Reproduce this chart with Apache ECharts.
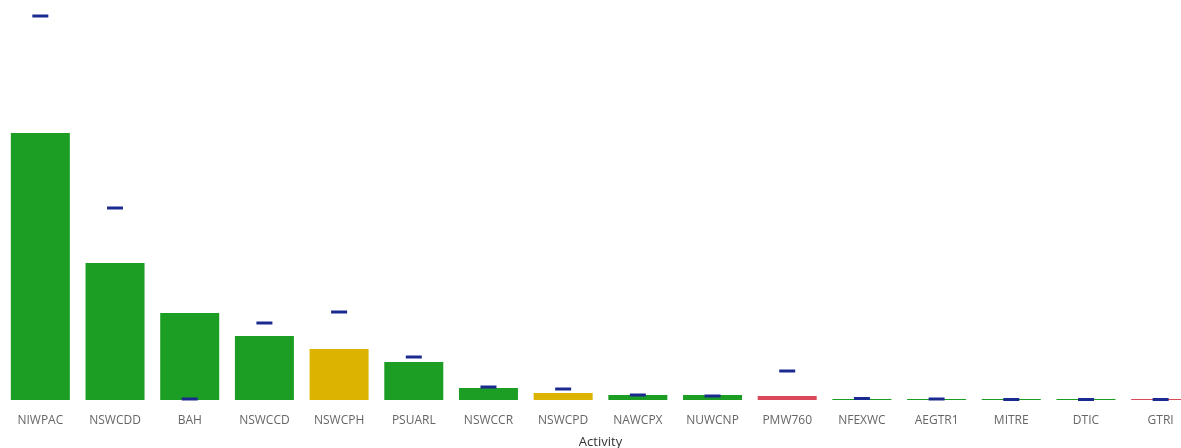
<!DOCTYPE html>
<html>
<head>
<meta charset="utf-8">
<script src="https://cdn.jsdelivr.net/npm/echarts@6/dist/echarts.min.js"></script>
<style>
  html, body { margin: 0; padding: 0; background: #fff; }
</style>
</head>
<body>
<div id="chart" style="width:1181px;height:448px;"></div>
<script>
// categories along the x axis
var activities = ["NIWPAC", "NSWCDD", "BAH", "NSWCCD", "NSWCPH", "PSUARL", "NSWCCR", "NSWCPD",
  "NAWCPX", "NUWCNP", "PMW760", "NFEXWC", "AEGTR1", "MITRE", "DTIC", "GTRI"];
// actual values (bars)
var actuals = [267, 137, 87, 64, 51, 38, 12, 7, 5, 5, 4, 1, 1, 1, 1, 1];
// target values (dash markers)
var targets = [384, 192, 1, 77, 88, 43, 13, 11, 5, 4, 29, 1.5, 1, 0.5, 0.5, 0.5];
// status per activity: g = on track, y = warning, r = off track
// (not named "status" - that clashes with window.status)
var statusCodes = ["g", "g", "g", "g", "y", "g", "g", "y", "g", "g", "r", "g", "g", "g", "g", "r"];

var statusColors = { g: "#1c9e24", y: "#dcb300", r: "#d9495a" };

var myChart = echarts.init(document.getElementById("chart"));

var option = {
  animation: false,
  textStyle: { fontFamily: "Open Sans" },
  grid: { left: 3, top: 0, bottom: 48, width: 1195, outerBoundsMode: "none", containLabel: false },
  xAxis: {
    type: "category",
    data: activities,
    name: "Activity",
    nameLocation: "middle",
    nameGap: 36,
    nameTextStyle: { color: "#333", fontSize: 13 },
    axisLine: { show: false },
    axisTick: { show: false },
    axisLabel: { color: "#666", fontSize: 12, margin: 15, interval: 0 }
  },
  yAxis: {
    type: "value",
    min: 0,
    max: 400,
    show: false
  },
  series: [
    {
      name: "Actual",
      type: "bar",
      barCategoryGap: "21%",
      itemStyle: {
        color: function (p) { return statusColors[statusCodes[p.dataIndex]]; }
      },
      data: actuals
    },
    {
      name: "Target",
      type: "scatter",
      symbol: "rect",
      symbolSize: [16, 3],
      z: 5,
      itemStyle: { color: "#1b2a8f", opacity: 1 },
      data: targets
    }
  ]
};

myChart.setOption(option);
</script>
</body>
</html>
